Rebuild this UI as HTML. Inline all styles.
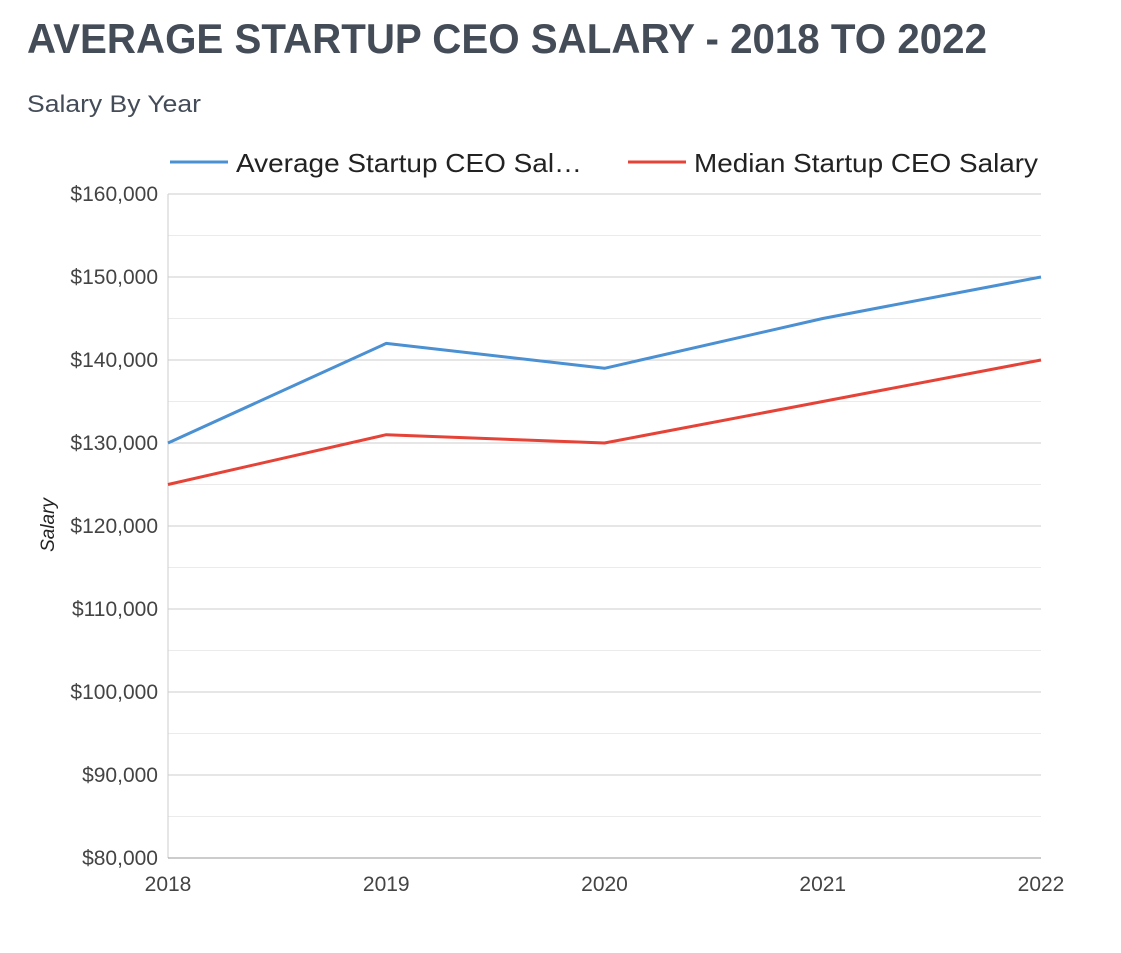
<!DOCTYPE html>
<html><head><meta charset="utf-8"><style>
body{margin:0;background:#fff;}
svg{display:block;font-family:"Liberation Sans",Arial,sans-serif;}
</style></head><body>
<svg width="1121" height="953">
<text x="27" y="53" font-size="42" font-weight="bold" fill="#444c58" textLength="960" lengthAdjust="spacingAndGlyphs">AVERAGE STARTUP CEO SALARY - 2018 TO 2022</text>
<text x="27" y="112" font-size="24" fill="#444c58" textLength="174" lengthAdjust="spacingAndGlyphs">Salary By Year</text>
<g>
<g><line x1="170" y1="162" x2="228" y2="162" stroke="#4a90d2" stroke-width="3"/><text x="236" y="172" font-size="26" fill="#222" textLength="346" lengthAdjust="spacingAndGlyphs">Average Startup CEO Sal…</text></g>
<g><line x1="628" y1="162" x2="686" y2="162" stroke="#e54337" stroke-width="3"/><text x="694" y="172" font-size="26" fill="#222" textLength="344" lengthAdjust="spacingAndGlyphs">Median Startup CEO Salary</text></g>
</g>
<g id="grid"></g>
<g id="marks"></g>
<text transform="translate(54,525) rotate(-90)" text-anchor="middle" font-size="19" font-style="italic" fill="#222">Salary</text>
</svg>
<script>
const years=["2018","2019","2020","2021","2022"];
const avgSalary=[130000,142000,139000,145000,150000];
const medianSalary=[125000,131000,130000,135000,140000];
const yTicks=[80000,90000,100000,110000,120000,130000,140000,150000,160000];
const NS="http://www.w3.org/2000/svg";
const X0=168,X1=1041,Y0=858,Y1=194,YMIN=80000,YMAX=160000;
const xs=i=>X0+(X1-X0)*i/(years.length-1);
const ys=v=>Y0-(Y0-Y1)*(v-YMIN)/(YMAX-YMIN);
function mk(t,a,p){const e=document.createElementNS(NS,t);for(const k in a)e.setAttribute(k,a[k]);p.appendChild(e);return e;}
const g=document.getElementById('grid'),m=document.getElementById('marks');
for(let v=YMIN;v<=YMAX;v+=5000){
 const l=mk('line',{x1:X0,x2:X1,y1:ys(v),y2:ys(v),stroke:v%10000?'#ebebeb':'#cccccc','stroke-width':1},g);
 
 
}
mk('line',{x1:X0,x2:X0,y1:Y1,y2:Y0,stroke:'#cccccc'},g);
mk('line',{x1:X0,x2:X1,y1:Y0,y2:Y0,stroke:'#999'},g);
yTicks.forEach(v=>{
 const t=mk('text',{x:158,y:ys(v)+7,'text-anchor':'end','font-size':21,fill:'#444'},g);
 t.textContent='$'+v.toLocaleString('en-US');
 
 
});
years.forEach((y,i)=>{
 const t=mk('text',{x:xs(i),y:891,'text-anchor':'middle','font-size':21,fill:'#444'},g);
 t.textContent=y;
 
 
});
function line(data,color,name){
 const p=mk('polyline',{points:data.map((v,i)=>xs(i)+','+ys(v)).join(' '),fill:'none',stroke:color,'stroke-width':3,'stroke-linejoin':'round'},m);
 
 
}
line(avgSalary,'#4a90d2','average-salary-line');
line(medianSalary,'#e54337','median-salary-line');
</script>
</body></html>
